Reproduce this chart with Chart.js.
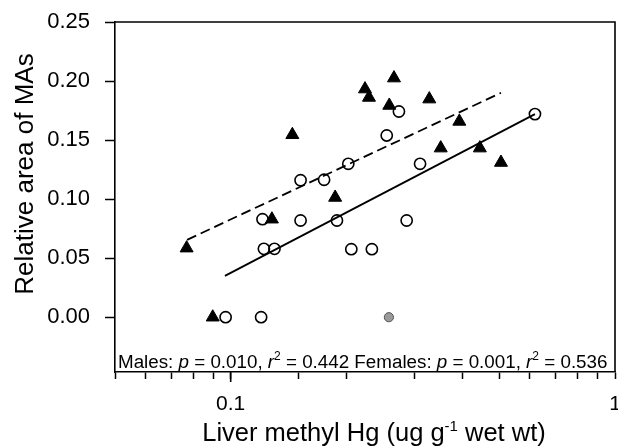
<!DOCTYPE html>
<html><head><meta charset="utf-8">
<script src="https://cdn.jsdelivr.net/npm/chart.js@4/dist/chart.umd.min.js"></script>
<style>html,body{margin:0;padding:0;background:#fff;} canvas{display:block;}</style>
</head><body>
<canvas id="c" width="618" height="446"></canvas>
<script>
// ---- data ----
const maleX = [0.0768, 0.0898, 0.128, 0.1447, 0.187, 0.2236, 0.229, 0.266, 0.2586, 0.3287, 0.352, 0.3935, 0.445, 0.505];
const maleY = [0.0585, 0.000, 0.083, 0.1545, 0.1014, 0.1932, 0.1861, 0.2025, 0.1793, 0.1847, 0.1432, 0.1658, 0.1432, 0.131];
const femaleX = [0.097, 0.120, 0.121, 0.122, 0.130, 0.152, 0.152, 0.175, 0.189, 0.2023, 0.206, 0.233, 0.2547, 0.274, 0.287, 0.311, 0.619];
const femaleY = [0.000, 0.000, 0.083, 0.0579, 0.0579, 0.116, 0.0819, 0.1164, 0.0819, 0.1299, 0.0576, 0.0576, 0.1539, 0.1742, 0.0819, 0.1299, 0.172];
const outlierX = [0.258];
const outlierY = [0.000];
const maleFitX = [0.077, 0.505];
const maleFitY = [0.0655, 0.190];
const femaleFitX = [0.0966, 0.619];
const femaleFitY = [0.035, 0.172];
const xTickLabels = [0.1, 1];
const xMin = 0.05, xMax = 1;
const yMin = -0.0464, yMax = 0.25, yStep = 0.05;
const yTitle = 'Relative area of MAs';
const xTitleParts = [{t:'Liver methyl Hg (ug g'}, {t:'-1', sup:true}, {t:' wet wt)'}];
const noteParts = [
  {t:'Males: '}, {t:'p', it:true}, {t:' = 0.010, '}, {t:'r', it:true}, {t:'2', sup:true}, {t:' = 0.442 Females: '},
  {t:'p', it:true}, {t:' = 0.001, '}, {t:'r', it:true}, {t:'2', sup:true}, {t:' = 0.536'}
];

const FONT = '"Liberation Sans", Arial, Helvetica, sans-serif';
const zip = (xs, ys) => xs.map((x, i) => ({x, y: ys[i]}));

function drawParts(ctx, parts, x, y, size, supSize, supRise) {
  const fontFor = p => (p.it ? 'italic ' : '') + (p.sup ? supSize : size) + 'px ' + FONT;
  let cx = x;
  parts.forEach(p => {
    ctx.font = fontFor(p);
    ctx.fillText(p.t, cx, p.sup ? y - supRise : y);
    cx += ctx.measureText(p.t).width;
  });
}
function partsWidth(ctx, parts, size, supSize) {
  let total = 0;
  parts.forEach(p => { ctx.font = (p.it ? 'italic ' : '') + (p.sup ? supSize : size) + 'px ' + FONT; total += ctx.measureText(p.t).width; });
  return total;
}
function noPad(s) { s.paddingLeft = 0; s.paddingRight = 0; s.paddingTop = 0; s.paddingBottom = 0; }

const decor = {
  id: 'decor',
  afterDraw(chart) {
    const ctx = chart.ctx, a = chart.chartArea;
    ctx.save();
    ctx.strokeStyle = '#000'; ctx.lineWidth = 1.6;
    ctx.beginPath();
    ctx.moveTo(a.left, a.top); ctx.lineTo(a.right, a.top); ctx.lineTo(a.right, a.bottom);
    ctx.stroke();
    // longer major tick at 0.1
    const xs = chart.scales.x;
    ctx.beginPath();
    const px = xs.getPixelForValue(0.1);
    ctx.moveTo(px, a.bottom); ctx.lineTo(px, a.bottom + 10); ctx.stroke();
    ctx.fillStyle = '#000';
    ctx.textBaseline = 'alphabetic'; ctx.textAlign = 'left';
    // annotation inside plot
    drawParts(ctx, noteParts, a.left + 3, 368, 18.8, 12, 8);
    // x title
    const w = partsWidth(ctx, xTitleParts, 25.5, 15);
    drawParts(ctx, xTitleParts, 374 - w / 2, 441, 25.5, 15, 10);
    // y title
    ctx.translate(33, 174);
    ctx.rotate(-Math.PI / 2);
    ctx.textAlign = 'center';
    ctx.font = '26px ' + FONT;
    ctx.fillText(yTitle, 0, 0);
    ctx.restore();
  }
};

new Chart(document.getElementById('c'), {
  type: 'scatter',
  data: {
    datasets: [
      { label: 'Male fit', type: 'line', data: zip(maleFitX, maleFitY), borderColor: '#000', borderWidth: 1.8,
        borderDash: [10, 5], pointRadius: 0, fill: false },
      { label: 'Female fit', type: 'line', data: zip(femaleFitX, femaleFitY), borderColor: '#000', borderWidth: 1.8,
        pointRadius: 0, fill: false },
      { label: 'Males', data: zip(maleX, maleY), pointStyle: 'triangle', pointRadius: 7.5,
        backgroundColor: '#000', borderColor: '#000', borderWidth: 1 },
      { label: 'Females', data: zip(femaleX, femaleY), pointStyle: 'circle', pointRadius: 5.6,
        backgroundColor: 'rgba(255,255,255,0)', borderColor: '#000', borderWidth: 1.6 },
      { label: 'Excluded', data: zip(outlierX, outlierY), pointStyle: 'circle', pointRadius: 4.6,
        backgroundColor: '#9a9a9a', borderColor: '#555', borderWidth: 1 }
    ]
  },
  options: {
    responsive: false, animation: false, devicePixelRatio: 1,
    layout: { autoPadding: false, padding: { top: 22, right: 3, left: 0, bottom: 0 } },
    plugins: { legend: { display: false }, tooltip: { enabled: false } },
    scales: {
      x: {
        type: 'logarithmic', min: xMin, max: xMax,
        afterFit(s) { s.height = 74; noPad(s); },
        border: { display: true, color: '#000', width: 1.6 },
        grid: { drawOnChartArea: false, drawTicks: true, tickLength: 7, color: '#000', tickColor: '#000', tickWidth: 1.5 },
        ticks: {
          autoSkip: false, maxRotation: 0, minRotation: 0, color: '#000', padding: 13,
          font: { family: FONT, size: 21 },
          callback: (v) => { const t = xTickLabels.find(t => Math.abs(v - t) / t < 1e-6); return t !== undefined ? String(t) : ''; }
        }
      },
      y: {
        min: yMin, max: yMax,
        afterFit(s) { s.width = 115; noPad(s); },
        border: { display: true, color: '#000', width: 1.6 },
        grid: { drawOnChartArea: false, drawTicks: true, tickLength: 10, color: '#000', tickColor: '#000', tickWidth: 1.5 },
        ticks: {
          stepSize: yStep, includeBounds: false, color: '#000', padding: 15,
          font: { family: FONT, size: 22 },
          callback: (v) => (Math.abs(v) < 1e-9 ? 0 : v).toFixed(2)
        }
      }
    }
  },
  plugins: [decor]
});
</script>
</body></html>
